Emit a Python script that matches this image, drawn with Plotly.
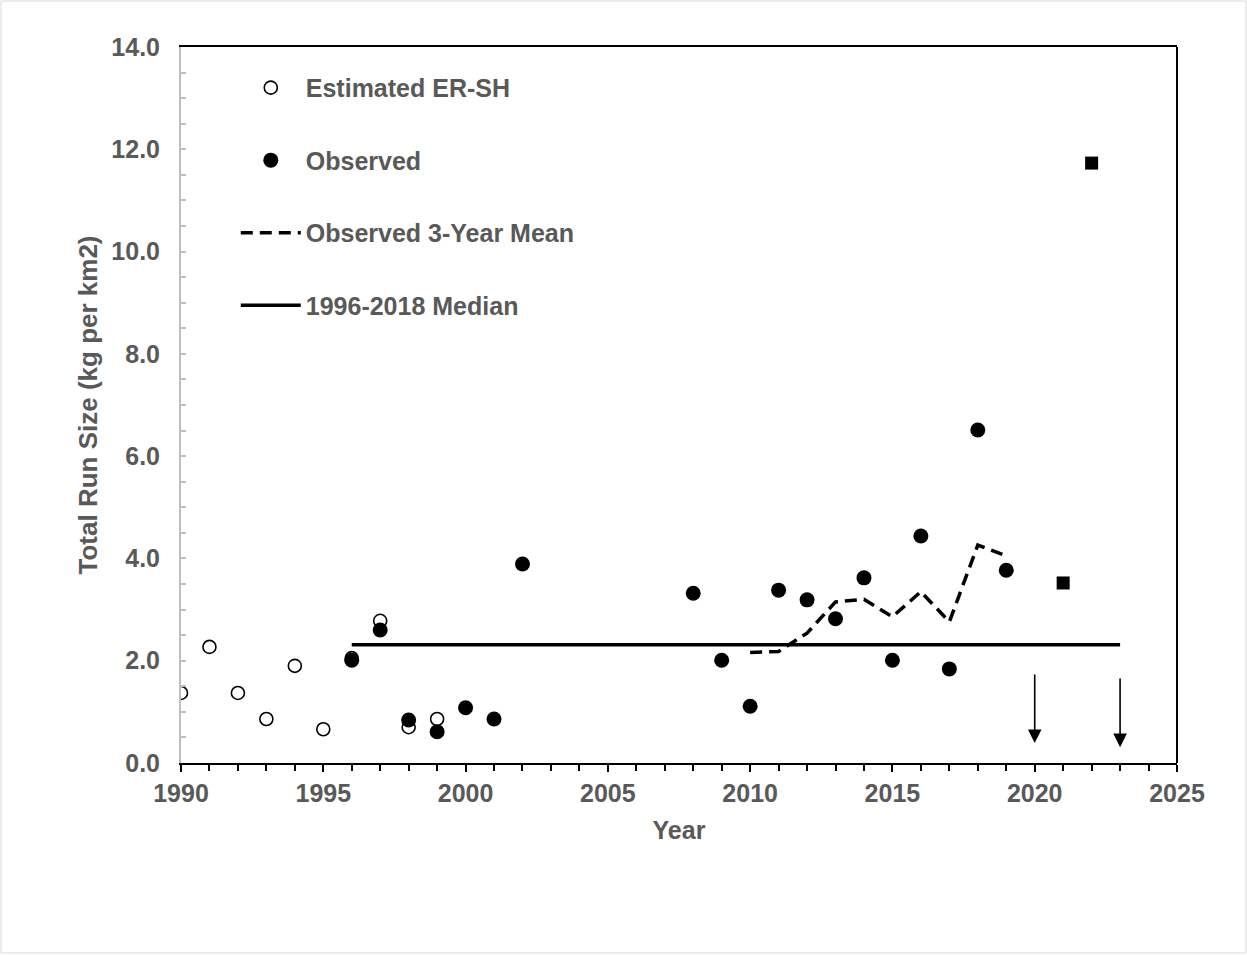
import plotly.graph_objects as go

# ---- data ----
est_years = [1990, 1991, 1992, 1993, 1994, 1995, 1996, 1997, 1998, 1999]
est_values = [1.37, 2.27, 1.37, 0.86, 1.90, 0.66, 2.05, 2.78, 0.70, 0.86]

obs_years = [1996, 1997, 1998, 1999, 2000, 2001, 2002, 2008, 2009, 2010, 2011,
             2012, 2013, 2014, 2015, 2016, 2017, 2018, 2019]
obs_values = [2.01, 2.60, 0.84, 0.61, 1.08, 0.86, 3.89, 3.32, 2.01, 1.11, 3.38,
              3.19, 2.82, 3.62, 2.01, 4.44, 1.84, 6.51, 3.77]

sq_years = [2021, 2022]
sq_values = [3.52, 11.73]

mean3_years = [2010, 2011, 2012, 2013, 2014, 2015, 2016, 2017, 2018, 2019]
mean3_values = [2.16, 2.18, 2.54, 3.15, 3.20, 2.86, 3.35, 2.76, 4.26, 4.05]

median_years = [1996, 2023]
median_value = 2.31

arrow_years = [2020, 2023]
arrow_top = [1.76, 1.68]
arrow_tip = [0.39, 0.31]

legend_labels = ["Estimated ER-SH", "Observed", "Observed 3-Year Mean", "1996-2018 Median"]

GRAY = "#595959"
FONT = "Liberation Sans, Arial, sans-serif"
FS = 25

fig = go.Figure()

fig.add_trace(go.Scatter(
    x=est_years, y=est_values, mode="markers", name=legend_labels[0],
    legendgroup="a",
    marker=dict(symbol="circle-open", size=13, color="black", line=dict(width=1.6)),
))
fig.add_trace(go.Scatter(
    x=obs_years, y=obs_values, mode="markers", name=legend_labels[1],
    legendgroup="b",
    marker=dict(symbol="circle", size=15, color="black"),
))
fig.add_trace(go.Scatter(
    x=sq_years, y=sq_values, mode="markers", showlegend=False,
    marker=dict(symbol="square", size=13, color="black"),
))
fig.add_trace(go.Scatter(
    x=mean3_years, y=mean3_values, mode="lines", name=legend_labels[2],
    legendgroup="c",
    line=dict(color="black", width=3.5, dash="12px,7px"),
))
fig.add_trace(go.Scatter(
    x=median_years, y=[median_value] * len(median_years), mode="lines",
    name=legend_labels[3], legendgroup="d",
    line=dict(color="black", width=3.5),
))

for xa, yt, yb in zip(arrow_years, arrow_top, arrow_tip):
    fig.add_annotation(
        x=xa, y=yb, ax=xa, ay=yt, xref="x", yref="y", axref="x", ayref="y",
        text="", showarrow=True, arrowhead=2, arrowsize=1.7, arrowwidth=1.6,
        arrowcolor="black",
    )

# right border (black)
fig.add_shape(type="line", xref="paper", yref="paper", x0=1, x1=1, y0=0, y1=1,
              line=dict(color="black", width=2))
# outer chart border
W, H = 1247, 955
L, R, T, B = 181, 70, 47, 192
pw, ph = W - L - R, H - T - B
fig.add_shape(type="rect", xref="paper", yref="paper",
              x0=(1 - L) / pw, x1=(W - L - 1) / pw,
              y0=-(B - 2) / ph, y1=1 + (T - 1) / ph,
              line=dict(color="#d9d9d9", width=1))

fig.update_layout(
    width=W, height=H,
    margin=dict(l=L, r=R, t=T, b=B),
    paper_bgcolor="white", plot_bgcolor="white",
    font=dict(family=FONT, color=GRAY, size=FS, weight="bold"),
    showlegend=True,
    legend=dict(
        x=0.055, y=0.975, xanchor="left", yanchor="top",
        bgcolor="rgba(0,0,0,0)", tracegroupgap=37,
        font=dict(family=FONT, size=FS, color=GRAY, weight="bold"),
        itemwidth=60,
    ),
    xaxis=dict(
        range=[1990, 2025], dtick=5, tick0=1990,
        showgrid=False, zeroline=False,
        showline=True, linecolor="black", linewidth=2, mirror=True,
        ticks="outside", ticklen=7, tickwidth=2, tickcolor="black",
        minor=dict(dtick=1, ticks="outside", ticklen=6, tickwidth=2, tickcolor="black"),
        tickfont=dict(family=FONT, size=FS, color=GRAY, weight="bold"),
        title=dict(text="Year", font=dict(family=FONT, size=FS, color=GRAY, weight="bold"),
                   standoff=15),
    ),
    yaxis=dict(
        range=[0, 14], dtick=2, tickformat=".1f",
        showgrid=False, zeroline=False,
        showline=True, linecolor="#bfbfbf", linewidth=2,
        ticks="inside", ticklen=5, tickwidth=1.5, tickcolor="#bfbfbf",
        minor=dict(dtick=0.5, ticks="inside", ticklen=5, tickwidth=1.5, tickcolor="#bfbfbf"),
        tickfont=dict(family=FONT, size=FS, color=GRAY, weight="bold"),
        ticklabelstandoff=14,
        title=dict(text="Total Run Size (kg per km2)",
                   font=dict(family=FONT, size=26, color=GRAY, weight="bold"),
                   standoff=6),
    ),
)

fig.write_html("out.html")
